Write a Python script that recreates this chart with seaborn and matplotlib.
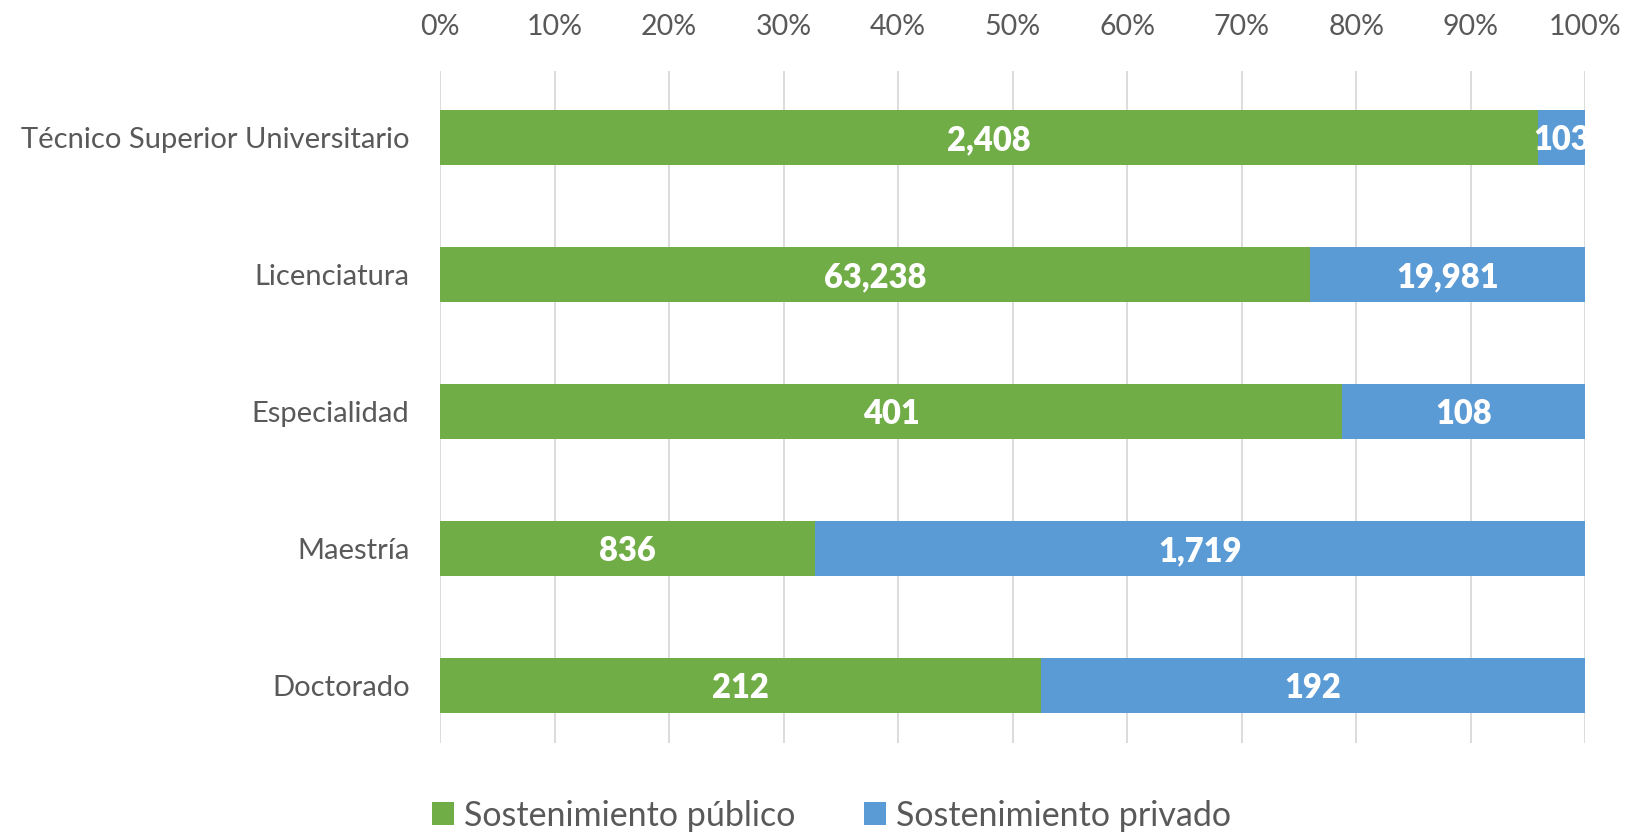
import matplotlib
matplotlib.use("Agg")
import matplotlib.pyplot as plt
import seaborn as sns
import pandas as pd
import numpy as np
from matplotlib.patches import Patch

categories = ["Técnico Superior Universitario", "Licenciatura", "Especialidad", "Maestría", "Doctorado"]
publico = [2408, 63238, 401, 836, 212]
privado = [103, 19981, 108, 1719, 192]
series_names = ["Sostenimiento público", "Sostenimiento privado"]
tick_values = [0, 10, 20, 30, 40, 50, 60, 70, 80, 90, 100]

GREEN = "#70AD47"
BLUE = "#5B9BD5"
TEXT = "#595959"
GRID = "#D9D9D9"

sns.set_theme(style="white")
plt.rcParams["font.family"] = ["Lato", "DejaVu Sans"]

pub = np.array(publico, dtype=float)
pri = np.array(privado, dtype=float)
tot = pub + pri
df = pd.DataFrame({
    "cat": categories,
    "pub_pct": pub / tot * 100,
    "total_pct": tot / tot * 100,
})

fig = plt.figure(figsize=(16.3, 8.34), dpi=100)
ax = fig.add_axes([0.270, 0.109, 0.7025, 0.806])

sns.barplot(data=df, y="cat", x="total_pct", color=BLUE, orient="h", width=0.4,
            ax=ax, saturation=1, linewidth=0)
sns.barplot(data=df, y="cat", x="pub_pct", color=GREEN, orient="h", width=0.4,
            ax=ax, saturation=1, linewidth=0)

for i, (p, q, pp) in enumerate(zip(publico, privado, df["pub_pct"])):
    ax.text(pp / 2, i + 0.02, f"{p:,}", ha="center", va="center", color="white",
            fontsize=23.5, fontweight="heavy")
    ax.text(pp + (100 - pp) / 2, i + 0.02, f"{q:,}", ha="center", va="center", color="white",
            fontsize=23.5, fontweight="heavy")

ax.set_xlim(0, 100)
ax.set_ylim(4.42, -0.485)
ax.set_xticks(tick_values)
ax.set_xticklabels([f"{t}%" for t in tick_values])
ax.xaxis.tick_top()
ax.tick_params(axis="x", length=0, pad=22, labelsize=20.5, labelcolor=TEXT)
ax.tick_params(axis="y", length=0, pad=22, labelsize=21, labelcolor=TEXT)
ax.set_xlabel("")
ax.set_ylabel("")
ax.grid(axis="x", color=GRID, linewidth=1.3)
ax.set_axisbelow(True)
for s in ax.spines.values():
    s.set_visible(False)

handles = [Patch(facecolor=GREEN, edgecolor="none"), Patch(facecolor=BLUE, edgecolor="none")]
fig.legend(handles, series_names, loc="center", bbox_to_anchor=(0.51, 0.022), ncol=2,
           frameon=False, fontsize=24.5, labelcolor=TEXT, handlelength=0.65, handleheight=0.65,
           handletextpad=0.3, columnspacing=2.0)

fig.savefig("out.png", dpi=100, facecolor="white")
